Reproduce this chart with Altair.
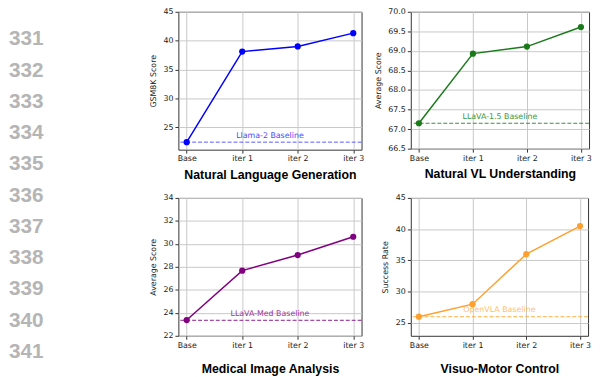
import altair as alt
import pandas as pd

# ---------------- data ----------------
categories = ["Base", "iter 1", "iter 2", "iter 3"]

nlg_scores = [22.4, 38.1, 39.0, 41.3]
vl_scores = [67.15, 68.93, 69.11, 69.61]
med_scores = [23.37, 27.67, 29.03, 30.62]
vmc_scores = [26.0, 28.0, 36.0, 40.5]

baseline_values = [22.4, 67.15, 23.35, 26.0]
baseline_labels = ["Llama-2 Baseline", "LLaVA-1.5 Baseline", "LLaVA-Med Baseline", "OpenVLA Baseline"]

panel_titles = ["Natural Language Generation", "Natural VL Understanding",
                "Medical Image Analysis", "Visuo-Motor Control"]
y_titles = ["GSM8K Score", "Average Score", "Average Score", "Success Rate"]

y_ticks_nlg = [25, 30, 35, 40, 45]
y_ticks_vl = [66.5, 67.0, 67.5, 68.0, 68.5, 69.0, 69.5, 70.0]
y_ticks_med = [22, 24, 26, 28, 30, 32, 34]
y_ticks_vmc = [25, 30, 35, 40, 45]

line_numbers_top = [331, 332, 333, 334, 335]
line_numbers_bottom = [336, 337, 338, 339, 340, 341]

FONT = "DejaVu Sans"
TITLE_FONT = "Liberation Sans"


def panel(idx, values, domain, ticks, fmt, color, rule_color, text_color, w, h, title_y, ytitle_x):
    df = pd.DataFrame({"iter": categories, "score": values})
    bdf = pd.DataFrame({"score": [baseline_values[idx]], "label": [baseline_labels[idx]]})
    x = alt.X(
        "iter:N", sort=categories,
        scale=alt.Scale(type="point", padding=0.15),
        axis=alt.Axis(title=panel_titles[idx], labelAngle=0, grid=True,
                      titleY=title_y, titleBaseline="middle",
                      titleFont=TITLE_FONT, titleFontSize=12.5, titleFontWeight="bold",
                      titleColor="#000000"),
    )
    y = alt.Y(
        "score:Q",
        scale=alt.Scale(domain=domain, nice=False, zero=False),
        axis=alt.Axis(title=y_titles[idx], values=ticks, format=fmt, grid=True,
                      titleX=ytitle_x, titleBaseline="middle"),
    )
    rule = alt.Chart(bdf).mark_rule(color=rule_color, strokeDash=[4, 2], strokeWidth=1).encode(y=y)
    line = alt.Chart(df).mark_line(color=color, strokeWidth=1.5).encode(x=x, y=y)
    pts = alt.Chart(df).mark_circle(color=color, size=40, opacity=1).encode(x=x, y=y)
    txt = alt.Chart(bdf).mark_text(color=text_color, font=FONT, fontSize=8, dy=-6.5).encode(
        y=y, x=alt.value(w / 2), text="label:N")
    return alt.layer(rule, line, pts, txt).properties(width=w, height=h)


def numbers(nums, domain, h):
    df = pd.DataFrame({"n": nums})
    return alt.Chart(df).mark_text(
        align="left", baseline="middle", font=TITLE_FONT, fontWeight="bold",
        fontSize=21, color="#b5b5b5"
    ).encode(
        x=alt.value(0),
        y=alt.Y("n:Q", scale=alt.Scale(domain=domain, nice=False, zero=False, reverse=True), axis=None),
        text="n:N",
    ).properties(width=122, height=h, view=alt.ViewBackground(stroke="transparent"))


tl = panel(0, nlg_scores, [21.1, 45], y_ticks_nlg, "d", "#0000ff", "#5a5aff", "#4a4aff",
           186, 140, 25, -25)
tr = panel(1, vl_scores, [66.5, 70.0], y_ticks_vl, ".1f", "#1a7a1a", "#3d8a3d", "#3a9a3a",
           181, 139, 25, -33)
bl = panel(2, med_scores, [22, 34], y_ticks_med, "d", "#800080", "#8a1a8a", "#9a3a9a",
           186, 140, 33, -25)
br = panel(3, vmc_scores, [22.94, 45], y_ticks_vmc, "d", "#ffa02e", "#ffb04a", "#ffbf70",
           180, 140, 33, -26)

n1 = numbers(line_numbers_top, [330.117, 334.531], 140)
n2 = numbers(line_numbers_bottom, [336.07, 340.48], 140)

chart = alt.concat(
    n1, tl, tr, n2, bl, br,
    columns=3, bounds="flush", align="each",
    spacing=alt.RowColnumber(row=49, column=50),
).properties(
    padding={"top": -4, "left": 0, "right": 0, "bottom": 0}
).configure_view(
    stroke="#333333", strokeWidth=1
).configure_axis(
    labelFont=FONT, labelFontSize=8, labelColor="#222222", labelPadding=2,
    titleFont=FONT, titleFontSize=8, titleFontWeight="normal", titleColor="#222222",
    tickColor="#333333", tickSize=3.5, domain=False,
    gridColor="#c8c8c8", gridWidth=1,
)

chart.save("out.html", embed_options={"renderer": "svg", "actions": False})
